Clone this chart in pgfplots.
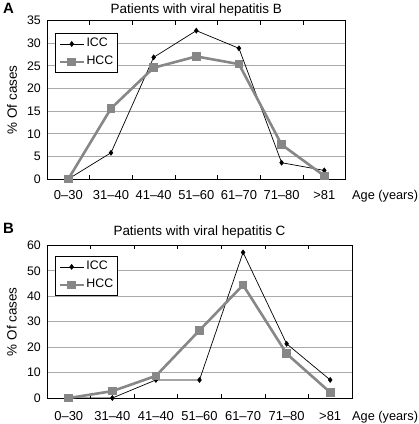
\documentclass[border=0pt]{standalone}
\usepackage{fontspec}
\setmainfont{Liberation Sans}
\usepackage{pgfplots}
\pgfplotsset{compat=1.18}
\definecolor{hcc}{RGB}{135,135,135}
\definecolor{gridc}{RGB}{170,170,170}
\pgfplotsset{
  panel/.style={
    scale only axis, clip=false,
    xmin=-0.5, xmax=6.5,
    xtick={0.5,1.5,...,5.5}, xticklabels={},
    major x tick style={black, line width=0.6bp},
    major tick length=4bp, tick align=inside,
    extra x ticks={0,1,2,3,4,5,6},
    extra x tick labels={0–30,31–40,41–40,51–60,61–70,71–80,>81},
    extra x tick style={major tick length=0pt, xticklabel style={anchor=base, inner sep=0pt, font=\fontsize{13}{15}\selectfont}},
    ymajorgrids, major grid style={gridc, line width=0.9bp},
    ytick style={draw=none},
    axis line style={black, line width=0.8bp},
    yticklabel style={anchor=east, inner sep=0pt, xshift=-6bp},
    /pgf/number format/assume math mode=true,
    ticklabel style={font=\fontsize{12.4}{14}\selectfont},
    label style={font=\fontsize{13.5}{15}\selectfont},
    title style={font=\fontsize{13.5}{15}\selectfont, at={(0.5,1)}, anchor=base},
    ylabel={\% Of cases},
    ylabel style={anchor=center},
    legend style={draw=black, line width=0.8bp, font=\fontsize{12.4}{14}\selectfont,
      inner xsep=3bp, inner ysep=1.5bp, row sep=0bp, cells={anchor=west},
      nodes={text height=9bp, text depth=3bp, inner ysep=3bp, inner xsep=1.5bp},
      anchor=north west},
    legend image code/.code={\draw[mark repeat=2,mark phase=2] plot coordinates {(0bp,0bp)(12bp,0bp)(24bp,0bp)};},
  },
  icc/.style={black, line width=0.7bp, mark=diamond*, mark size=2.4bp, mark options={solid, fill=black}},
  hccs/.style={hcc, line width=2.6bp, mark=square*, mark size=3.8bp, mark options={solid, fill=hcc, line width=0pt}},
}
\begin{document}
\begin{tikzpicture}
\useasboundingbox (0,0) rectangle (419bp,-424bp);
\begin{axis}[panel,
  at={(47bp,-179bp)}, anchor=south west,
  width=298.6bp, height=158.3bp,
  ymin=0, ymax=35, ytick={0,5,...,35},
  title={Patients with viral hepatitis B}, title style={yshift=1.4bp},
  ylabel style={at={(axis description cs:-0.117,0.5)}},
  xticklabel style={yshift=-20bp},
  legend style={at={(axis description cs:0.027,0.922)}},
]
\addplot[icc] coordinates {(0,0) (1,5.8) (2,26.9) (3,32.8) (4,28.9) (5,3.6) (6,1.9)};
\addlegendentry{ICC}
\addplot[hccs] coordinates {(0,0) (1,15.6) (2,24.6) (3,27.1) (4,25.4) (5,7.6) (6,0.7)};
\addlegendentry{HCC}
\end{axis}
\begin{axis}[panel,
  at={(47bp,-398bp)}, anchor=south west,
  width=305bp, height=152.7bp,
  ymin=0, ymax=60, ytick={0,10,...,60},
  title={Patients with viral hepatitis C}, title style={yshift=3.8bp},
  ylabel style={at={(axis description cs:-0.115,0.5)}},
  xticklabel style={yshift=-22bp},
  legend style={at={(axis description cs:0.026,0.93)}},
]
\addplot[icc] coordinates {(0,0) (1,0) (2,7.1) (3,7.1) (4,57.2) (5,21.3) (6,7.1)};
\addlegendentry{ICC}
\addplot[hccs] coordinates {(0,0) (1,2.7) (2,8.7) (3,26.6) (4,44.4) (5,17.4) (6,2.2)};
\addlegendentry{HCC}
\end{axis}
\node[font=\fontsize{15}{17}\selectfont\bfseries, anchor=base west, inner sep=0pt] at (3bp,-13.5bp) {A};
\node[font=\fontsize{15}{17}\selectfont\bfseries, anchor=base west, inner sep=0pt] at (3bp,-233.5bp) {B};
\node[font=\fontsize{12.8}{15}\selectfont, anchor=base west, inner sep=0pt] at (352bp,-199bp) {Age (years)};
\node[font=\fontsize{12.8}{15}\selectfont, anchor=base west, inner sep=0pt] at (352bp,-420bp) {Age (years)};
\end{tikzpicture}
\end{document}
